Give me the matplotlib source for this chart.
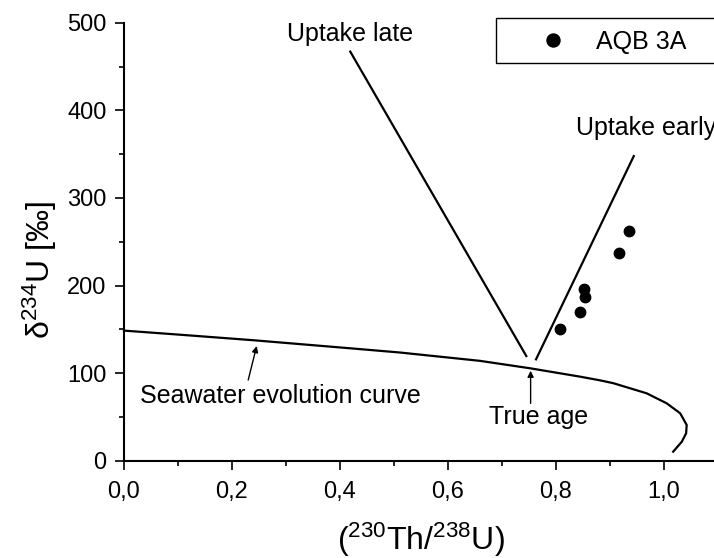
import matplotlib
matplotlib.use("Agg")
import matplotlib.pyplot as plt
from matplotlib import ticker
from matplotlib.patches import Rectangle

plt.rcParams['font.family'] = ['Liberation Sans', 'DejaVu Sans']
plt.rcParams['mathtext.default'] = 'regular'

# --- data ---
sample_label = "AQB 3A"
sample_th_u = [0.807, 0.845, 0.853, 0.852, 0.916, 0.936]
sample_d234 = [150, 170, 187, 196, 237, 262]

curve_th_u = [0.0, 0.1, 0.24, 0.425, 0.511, 0.659, 0.752, 0.844, 0.881, 0.906,
              0.968, 1.005, 1.030, 1.042, 1.041, 1.033, 1.017]
curve_d234 = [148.5, 144.0, 137.5, 128.0, 123.5, 114.0, 105.5, 96.0, 91.8, 88.5,
              76.9, 65.5, 54.1, 40.8, 31.3, 21.7, 10.3]

late_th_u = [0.419, 0.745]
late_d234 = [467, 119.5]
early_th_u = [0.763, 0.944]
early_d234 = [115.7, 347.7]

x_ticks = [0.0, 0.2, 0.4, 0.6, 0.8, 1.0]
y_ticks = [0, 100, 200, 300, 400, 500]

W, H = 714, 558
fig = plt.figure(figsize=(W / 100, H / 100), dpi=100)
x0_px, x_per = 124, 540.0
y0_px, y500_px = 460.7, 22.7
xmax = 1.1
ax = fig.add_axes([x0_px / W, 1 - y0_px / H, xmax * x_per / W, (y0_px - y500_px) / H])
ax.set_xlim(0, xmax)
ax.set_ylim(0, 500)

for s in ['top', 'right']:
    ax.spines[s].set_visible(False)
for s in ['left', 'bottom']:
    ax.spines[s].set_linewidth(1.5)
    ax.spines[s].set_clip_on(False)

ax.set_xticks(x_ticks)
ax.set_yticks(y_ticks)
ax.xaxis.set_minor_locator(ticker.MultipleLocator(0.1))
ax.yaxis.set_minor_locator(ticker.MultipleLocator(50))
ax.xaxis.set_major_formatter(ticker.FuncFormatter(lambda v, p: f"{v:.1f}".replace('.', ',')))
ax.tick_params(which='major', direction='out', length=6.5, width=1.2, labelsize=17, pad=6)
ax.tick_params(which='minor', direction='out', length=3.5, width=1.2)
ax.tick_params(axis='x', which='major', pad=8)

lw = 1.6
ax.plot(curve_th_u, curve_d234, color='black', lw=lw, clip_on=False,
        solid_joinstyle='round')
ax.plot(late_th_u, late_d234, color='black', lw=lw)
ax.plot(early_th_u, early_d234, color='black', lw=lw, clip_on=False)
ax.plot(sample_th_u, sample_d234, 'o', color='black', ms=7.5, ls='none', label=sample_label)

ax.text(0.302, 479, "Uptake late", fontsize=18, ha='left', va='baseline')
ax.text(0.837, 372, "Uptake early", fontsize=18, ha='left', va='baseline', clip_on=False)
ax.text(0.0303, 65.5, "Seawater evolution curve", fontsize=18, ha='left', va='baseline')
ax.text(0.676, 41.5, "True age", fontsize=18, ha='left', va='baseline')

arrowprops = dict(arrowstyle='-|>', color='black', lw=1.0, mutation_scale=9,
                  shrinkA=0, shrinkB=0)
ax.annotate("", xy=(0.2457, 130.9), xytext=(0.230, 92.1), arrowprops=arrowprops)
ax.annotate("", xy=(0.753, 102.7), xytext=(0.753, 65.5), arrowprops=arrowprops)

# legend (frame drawn separately so it can extend past the right edge)
fig.patches.append(Rectangle((495.7 / W, 1 - 63.3 / H), 240 / W, 45 / H,
                             transform=fig.transFigure, fill=False,
                             edgecolor='black', lw=1.0))
fs_leg = 18
hl = 1.0
fs_px = fs_leg * 100 / 72
handle_left = 552.7 - hl * fs_px / 2
htp = (596 - 552.7 - hl * fs_px / 2) / fs_px
leg = ax.legend(loc='center left', bbox_to_anchor=(handle_left / W, 1 - 41.7 / H),
                bbox_transform=fig.transFigure, frameon=False, fontsize=fs_leg,
                handlelength=hl, handletextpad=htp, borderpad=0, borderaxespad=0,
                markerscale=1.25)

fig.text(40 / W, 1 - 270 / H, "δ$^{234}$U [‰]", rotation=90, fontsize=23,
         ha='center', va='center')
fig.text(421 / W, 1 - 540 / H, "($^{230}$Th/$^{238}$U)", fontsize=23,
         ha='center', va='center')

fig.savefig("out.png", dpi=100)
